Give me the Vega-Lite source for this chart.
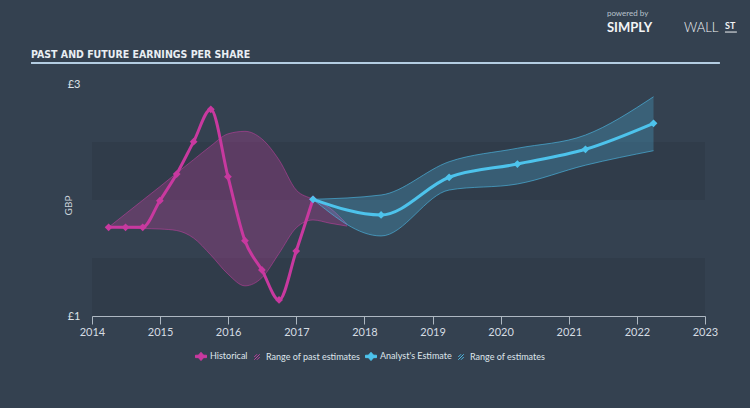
{
  "$schema": "https://vega.github.io/schema/vega-lite/v6.json",
  "width": 613,
  "height": 232,
  "autosize": {"type": "none"},
  "padding": {"left": 92, "top": 84, "right": 45, "bottom": 92},
  "background": "#344150",
  "config": {
    "view": {"stroke": null},
    "font": "Lato",
    "axisX": {"domainColor": "#aeb8c2", "tickColor": "#aeb8c2", "tickSize": 8, "labelColor": "#d5dce3", "labelFontSize": 11, "labelFont": "Lato", "grid": false, "labelPadding": 2, "labelFlush": false},
    "axisY": {"domain": false, "ticks": false, "grid": false, "labelColor": "#dde3e8", "labelFontSize": 11, "labelFont": "Lato", "labelPadding": 12, "titleColor": "#c9d1d9", "titleFont": "Lato", "titleFontSize": 10, "titleFontWeight": "normal", "titleX": -24, "titleY": 121, "titleBaseline": "middle", "titleAlign": "center"}
  },
  "datasets": {
    "bands": [{"lo": 1, "hi": 1.5}, {"lo": 2, "hi": 2.5}],
    "hist": [
      {"date": "2014-03-31", "v": 1.765, "series": "Historical"},
      {"date": "2014-06-30", "v": 1.765, "series": "Historical"},
      {"date": "2014-09-30", "v": 1.765, "series": "Historical"},
      {"date": "2014-12-31", "v": 1.994, "series": "Historical"},
      {"date": "2015-03-31", "v": 2.224, "series": "Historical"},
      {"date": "2015-06-30", "v": 2.503, "series": "Historical"},
      {"date": "2015-09-30", "v": 2.782, "series": "Historical"},
      {"date": "2015-12-31", "v": 2.201, "series": "Historical"},
      {"date": "2016-03-31", "v": 1.649, "series": "Historical"},
      {"date": "2016-06-30", "v": 1.397, "series": "Historical"},
      {"date": "2016-09-30", "v": 1.138, "series": "Historical"},
      {"date": "2016-12-31", "v": 1.560, "series": "Historical"},
      {"date": "2017-03-31", "v": 2.006, "series": "Historical"}
    ],
    "analyst": [
      {"date": "2017-03-31", "v": 2.006, "series": "Analyst's Estimate"},
      {"date": "2018-03-31", "v": 1.871, "series": "Analyst's Estimate"},
      {"date": "2019-03-31", "v": 2.196, "series": "Analyst's Estimate"},
      {"date": "2020-03-31", "v": 2.310, "series": "Analyst's Estimate"},
      {"date": "2021-03-31", "v": 2.437, "series": "Analyst's Estimate"},
      {"date": "2022-03-31", "v": 2.661, "series": "Analyst's Estimate"}
    ],
    "pastRange": [
      {"date": "2014-03-31", "lo": 1.765, "hi": 1.765, "series": "Range of past estimates"},
      {"date": "2014-06-30", "lo": 1.759, "hi": 1.881, "series": "Range of past estimates"},
      {"date": "2014-09-30", "lo": 1.754, "hi": 1.998, "series": "Range of past estimates"},
      {"date": "2014-12-31", "lo": 1.750, "hi": 2.115, "series": "Range of past estimates"},
      {"date": "2015-03-31", "lo": 1.737, "hi": 2.232, "series": "Range of past estimates"},
      {"date": "2015-06-30", "lo": 1.672, "hi": 2.348, "series": "Range of past estimates"},
      {"date": "2015-09-30", "lo": 1.526, "hi": 2.466, "series": "Range of past estimates"},
      {"date": "2015-12-31", "lo": 1.362, "hi": 2.570, "series": "Range of past estimates"},
      {"date": "2016-03-31", "lo": 1.260, "hi": 2.592, "series": "Range of past estimates"},
      {"date": "2016-06-30", "lo": 1.330, "hi": 2.526, "series": "Range of past estimates"},
      {"date": "2016-09-30", "lo": 1.540, "hi": 2.345, "series": "Range of past estimates"},
      {"date": "2016-12-31", "lo": 1.760, "hi": 2.086, "series": "Range of past estimates"},
      {"date": "2017-03-31", "lo": 1.828, "hi": 2.006, "series": "Range of past estimates"},
      {"date": "2017-06-30", "lo": 1.800, "hi": 1.930, "series": "Range of past estimates"},
      {"date": "2017-09-30", "lo": 1.775, "hi": 1.790, "series": "Range of past estimates"}
    ],
    "futRange": [
      {"date": "2017-03-31", "lo": 2.006, "hi": 2.006, "series": "Range of estimates"},
      {"date": "2018-03-31", "lo": 1.690, "hi": 2.043, "series": "Range of estimates"},
      {"date": "2019-03-31", "lo": 2.086, "hi": 2.330, "series": "Range of estimates"},
      {"date": "2020-03-31", "lo": 2.138, "hi": 2.446, "series": "Range of estimates"},
      {"date": "2021-03-31", "lo": 2.300, "hi": 2.560, "series": "Range of estimates"},
      {"date": "2022-03-31", "lo": 2.425, "hi": 2.890, "series": "Range of estimates"}
    ],
    "one": [{}]
  },
  "layer": [
    {
      "data": {"name": "bands"},
      "mark": {"type": "rect", "fill": "#000000", "opacity": 0.07},
      "encoding": {
        "y": {"field": "lo", "type": "quantitative", "scale": {"domain": [1, 3], "nice": false, "zero": false}, "axis": {"values": [1, 3], "labelExpr": "'£' + datum.value", "title": "GBP"}},
        "y2": {"field": "hi"}
      }
    },
    {
      "data": {"name": "pastRange"},
      "mark": {"type": "area", "interpolate": "monotone", "fillOpacity": 0.3},
      "encoding": {
        "x": {"field": "date", "type": "temporal", "title": null, "scale": {"domain": [{"year": 2014, "month": 1, "date": 1}, {"year": 2023, "month": 1, "date": 1}]}, "axis": {"tickCount": {"interval": "year", "step": 1}, "format": "%Y", "title": null}},
        "y": {"field": "lo", "type": "quantitative", "axis": {"values": [1, 3], "labelExpr": "'£' + datum.value", "title": "GBP"}},
        "y2": {"field": "hi"},
        "color": {
          "field": "series", "type": "nominal",
          "scale": {"domain": ["Historical", "Range of past estimates", "Analyst's Estimate", "Range of estimates"], "range": ["#c8399f", "#c23fa0", "#4dc3ec", "#4cb8e4"]},
          "legend": {
            "orient": "none", "legendX": 103, "legendY": 266, "direction": "horizontal", "title": null,
            "symbolSize": 121, "labelFontSize": 9, "labelFont": "Lato", "labelColor": "#dfe5eb", "columnPadding": 3, "labelOffset": 3, "padding": 0, "labelLimit": 200,
            "encode": {"symbols": {"update": {
              "shape": {"signal": "datum.value == 'Historical' || indexof(datum.value, 'Analyst') == 0 ? 'M-1,-0.22L1,-0.22L1,0.22L-1,0.22Z M0,-0.75L0.65,0L0,0.75L-0.65,0Z' : 'M-0.5,0.5L0.5,-0.5M-0.5,0L0,-0.5M0,0.5L0.5,0'"},
              "fill": {"signal": "datum.value == 'Historical' ? '#c8399f' : indexof(datum.value, 'Analyst') == 0 ? '#4dc3ec' : 'transparent'"},
              "stroke": {"signal": "datum.value == 'Range of past estimates' ? '#c8399f' : datum.value == 'Range of estimates' ? '#4dc3ec' : 'transparent'"},
              "strokeWidth": {"value": 1},
              "opacity": {"value": 1},
              "fillOpacity": {"value": 1},
              "strokeOpacity": {"value": 1}
            }}}
          }
        }
      }
    },
    {
      "data": {"name": "pastRange"},
      "mark": {"type": "line", "interpolate": "monotone", "strokeWidth": 0.8, "opacity": 0.7},
      "encoding": {
        "x": {"field": "date", "type": "temporal", "title": null},
        "y": {"field": "lo", "type": "quantitative", "title": "GBP"},
        "color": {"field": "series", "type": "nominal"}
      }
    },
    {
      "data": {"name": "pastRange"},
      "mark": {"type": "line", "interpolate": "monotone", "strokeWidth": 0.8, "opacity": 0.7},
      "encoding": {
        "x": {"field": "date", "type": "temporal", "title": null},
        "y": {"field": "hi", "type": "quantitative", "title": "GBP"},
        "color": {"field": "series", "type": "nominal"}
      }
    },
    {
      "data": {"name": "hist"},
      "mark": {"type": "line", "interpolate": "monotone", "strokeWidth": 3},
      "encoding": {
        "x": {"field": "date", "type": "temporal", "title": null},
        "y": {"field": "v", "type": "quantitative", "title": "GBP"},
        "color": {"field": "series", "type": "nominal"}
      }
    },
    {
      "data": {"name": "hist"},
      "mark": {"type": "point", "shape": "diamond", "filled": true, "size": 60, "opacity": 1},
      "encoding": {
        "x": {"field": "date", "type": "temporal", "title": null},
        "y": {"field": "v", "type": "quantitative", "title": "GBP"},
        "color": {"field": "series", "type": "nominal"}
      }
    },
    {
      "data": {"name": "futRange"},
      "mark": {"type": "area", "interpolate": "monotone", "fillOpacity": 0.27},
      "encoding": {
        "x": {"field": "date", "type": "temporal", "title": null},
        "y": {"field": "lo", "type": "quantitative", "title": "GBP"},
        "y2": {"field": "hi"},
        "color": {"field": "series", "type": "nominal"}
      }
    },
    {
      "data": {"name": "futRange"},
      "mark": {"type": "line", "interpolate": "monotone", "strokeWidth": 0.8, "opacity": 0.8},
      "encoding": {
        "x": {"field": "date", "type": "temporal", "title": null},
        "y": {"field": "lo", "type": "quantitative", "title": "GBP"},
        "color": {"field": "series", "type": "nominal"}
      }
    },
    {
      "data": {"name": "futRange"},
      "mark": {"type": "line", "interpolate": "monotone", "strokeWidth": 0.8, "opacity": 0.8},
      "encoding": {
        "x": {"field": "date", "type": "temporal", "title": null},
        "y": {"field": "hi", "type": "quantitative", "title": "GBP"},
        "color": {"field": "series", "type": "nominal"}
      }
    },
    {
      "data": {"name": "analyst"},
      "mark": {"type": "line", "interpolate": "monotone", "strokeWidth": 3},
      "encoding": {
        "x": {"field": "date", "type": "temporal", "title": null},
        "y": {"field": "v", "type": "quantitative", "title": "GBP"},
        "color": {"field": "series", "type": "nominal"}
      }
    },
    {
      "data": {"name": "analyst"},
      "mark": {"type": "point", "shape": "diamond", "filled": true, "size": 60, "opacity": 1},
      "encoding": {
        "x": {"field": "date", "type": "temporal", "title": null},
        "y": {"field": "v", "type": "quantitative", "title": "GBP"},
        "color": {"field": "series", "type": "nominal"}
      }
    },
    {
      "data": {"name": "one"},
      "mark": {"type": "text", "align": "left", "baseline": "alphabetic", "font": "DejaVu Sans Condensed, Roboto Condensed, Liberation Sans, sans-serif", "fontWeight": "bold", "fontSize": 10.5, "color": "#e9eef3"},
      "encoding": {
        "x": {"datum": {"year": 2013, "month": 2, "date": 8}, "type": "temporal"},
        "y": {"datum": 3.224},
        "text": {"value": "PAST AND FUTURE EARNINGS PER SHARE"}
      }
    },
    {
      "data": {"name": "one"},
      "mark": {"type": "rule", "color": "#b4cde2", "strokeWidth": 2},
      "encoding": {
        "x": {"datum": {"year": 2013, "month": 2, "date": 8}, "type": "temporal"},
        "x2": {"datum": {"year": 2023, "month": 3, "date": 22}},
        "y": {"datum": 3.181}
      }
    },
    {
      "data": {"name": "one"},
      "mark": {"type": "text", "align": "left", "baseline": "middle", "font": "Lato", "fontSize": 8, "color": "#b8c2cc"},
      "encoding": {
        "x": {"datum": {"year": 2021, "month": 7, "date": 24}, "type": "temporal"},
        "y": {"datum": 3.607},
        "text": {"value": "powered by"}
      }
    },
    {
      "data": {"name": "one"},
      "mark": {"type": "text", "align": "left", "baseline": "middle", "font": "Lato", "fontWeight": "bold", "fontSize": 13, "color": "#f2f4f6"},
      "encoding": {
        "x": {"datum": {"year": 2021, "month": 7, "date": 24}, "type": "temporal"},
        "y": {"datum": 3.483},
        "text": {"value": "SIMPLY"}
      }
    },
    {
      "data": {"name": "one"},
      "mark": {"type": "text", "align": "left", "baseline": "middle", "font": "Lato", "fontWeight": 300, "fontSize": 13, "color": "#f2f4f6"},
      "encoding": {
        "x": {"datum": {"year": 2022, "month": 9, "date": 10}, "type": "temporal"},
        "y": {"datum": 3.483},
        "text": {"value": "WALL"}
      }
    },
    {
      "data": {"name": "one"},
      "mark": {"type": "text", "align": "left", "baseline": "middle", "font": "Lato", "fontWeight": "bold", "fontSize": 9, "color": "#f2f4f6"},
      "encoding": {
        "x": {"datum": {"year": 2023, "month": 4, "date": 18}, "type": "temporal"},
        "y": {"datum": 3.5},
        "text": {"value": "ST"}
      }
    },
    {
      "data": {"name": "one"},
      "mark": {"type": "rule", "color": "#f2f4f6", "strokeWidth": 1},
      "encoding": {
        "x": {"datum": {"year": 2023, "month": 4, "date": 18}, "type": "temporal"},
        "x2": {"datum": {"year": 2023, "month": 6, "date": 21}},
        "y": {"datum": 3.448}
      }
    }
  ]
}
